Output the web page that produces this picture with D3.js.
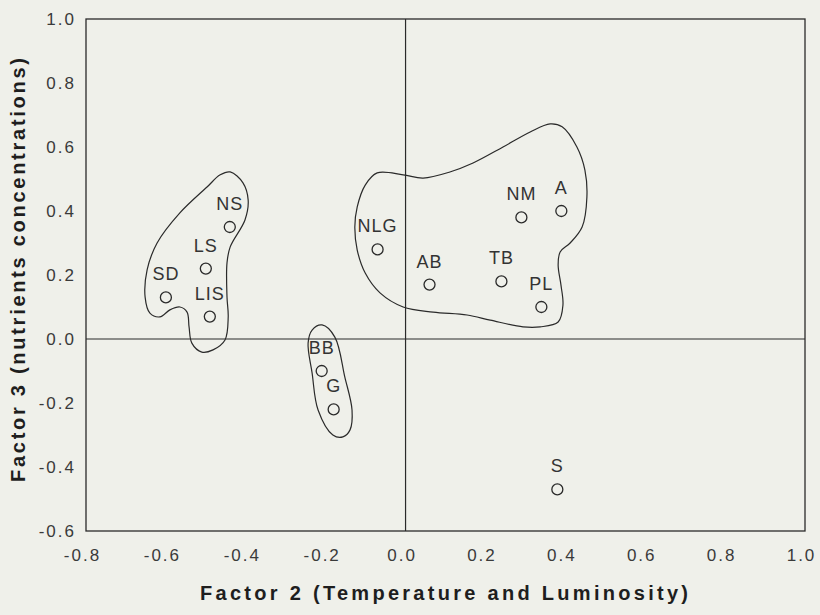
<!DOCTYPE html>
<html>
<head>
<meta charset="utf-8">
<script src="https://cdn.jsdelivr.net/npm/d3@7"></script>
<style>
  html, body { margin: 0; padding: 0; background: #eff0ea; }
  svg { display: block; }
</style>
</head>
<body>
<svg id="chart" width="820" height="615"></svg>
<script>
// ---- Data ----
const sites = ["SD", "NS", "LS", "LIS", "BB", "G", "NLG", "AB", "TB", "NM", "A", "PL", "S"];
const factor2 = [-0.60, -0.44, -0.50, -0.49, -0.21, -0.18, -0.07, 0.06, 0.24, 0.29, 0.39, 0.34, 0.38];
const factor3 = [0.13, 0.35, 0.22, 0.07, -0.10, -0.22, 0.28, 0.17, 0.18, 0.38, 0.40, 0.10, -0.47];

const xTicks = [-0.8, -0.6, -0.4, -0.2, 0.0, 0.2, 0.4, 0.6, 0.8, 1.0];
const yTicks = [-0.6, -0.4, -0.2, 0.0, 0.2, 0.4, 0.6, 0.8, 1.0];

const xTitle = "Factor 2 (Temperature and Luminosity)";
const yTitle = "Factor 3 (nutrients concentrations)";

// Group outlines (hand-drawn enclosures), in data units
const groupLeft = [[-0.439,0.522],[-0.407,0.488],[-0.394,0.434],[-0.402,0.372],[-0.439,0.288],[-0.447,0.238],[-0.447,0.131],[-0.444,0.069],[-0.452,-0.003],[-0.482,-0.034],[-0.51,-0.041],[-0.535,-0.013],[-0.542,0.038],[-0.547,0.084],[-0.565,0.1],[-0.59,0.091],[-0.615,0.069],[-0.64,0.081],[-0.652,0.131],[-0.647,0.216],[-0.622,0.3],[-0.565,0.394],[-0.497,0.475],[-0.464,0.513]];
const groupMiddle = [[-0.209,0.044],[-0.177,0.006],[-0.152,-0.119],[-0.134,-0.222],[-0.139,-0.284],[-0.157,-0.306],[-0.182,-0.3],[-0.219,-0.222],[-0.234,-0.106],[-0.244,-0.013],[-0.234,0.028]];
const groupRight = [[-0.071,0.519],[-0.006,0.513],[0.044,0.503],[0.111,0.522],[0.169,0.55],[0.244,0.6],[0.312,0.647],[0.362,0.672],[0.392,0.663],[0.429,0.6],[0.449,0.528],[0.454,0.444],[0.442,0.35],[0.412,0.3],[0.387,0.272],[0.382,0.231],[0.389,0.169],[0.394,0.106],[0.382,0.053],[0.337,0.038],[0.294,0.038],[0.212,0.059],[0.154,0.075],[0.069,0.084],[-0.006,0.1],[-0.064,0.144],[-0.101,0.206],[-0.121,0.278],[-0.127,0.35],[-0.121,0.413],[-0.101,0.481]];

(function () {
// ---- Layout ----
const svg = d3.select("#chart");
const pLeft = 86, pRight = 805, pTop = 19, pBottom = 531;
const ink = "#2a2a2a";
const fontFam = "'Liberation Sans', Arial, sans-serif";
const fmt = d => d.toFixed(1);

const x = d3.scaleLinear().domain([-0.8, 1.0]).range([pLeft, pRight]);
const y = d3.scaleLinear().domain([-0.6, 1.0]).range([pBottom, pTop]);

// Frame
svg.append("rect")
  .attr("x", pLeft).attr("y", pTop)
  .attr("width", pRight - pLeft).attr("height", pBottom - pTop)
  .attr("fill", "none").attr("stroke", ink).attr("stroke-width", 1.3);

// Zero lines
svg.append("line")
  .attr("x1", pLeft).attr("x2", pRight).attr("y1", y(0)).attr("y2", y(0))
  .attr("stroke", ink).attr("stroke-width", 1.2);
svg.append("line")
  .attr("x1", x(0)).attr("x2", x(0)).attr("y1", pTop).attr("y2", pBottom)
  .attr("stroke", ink).attr("stroke-width", 1.2);

// Axes (labels only, no tick marks)
const xAxis = d3.axisBottom(x).tickValues(xTicks).tickFormat(fmt).tickSize(0).tickPadding(0);
const gx = svg.append("g").attr("transform", `translate(0,${pBottom})`).call(xAxis);
gx.select(".domain").remove();
gx.selectAll("text")
  .attr("y", 30).attr("dy", 0).attr("dx", -4)
  .attr("fill", "#3a3a3a").attr("font-size", 17).attr("font-family", fontFam)
  .style("letter-spacing", "2px");

const yAxis = d3.axisLeft(y).tickValues(yTicks).tickFormat(fmt).tickSize(0).tickPadding(0);
const gy = svg.append("g").attr("transform", `translate(${pLeft},0)`).call(yAxis);
gy.select(".domain").remove();
gy.selectAll("text")
  .attr("x", -10).attr("dy", "0.35em")
  .attr("fill", "#3a3a3a").attr("font-size", 17).attr("font-family", fontFam)
  .style("letter-spacing", "2px");

// Axis titles
svg.append("text")
  .attr("x", 444).attr("y", 600)
  .attr("text-anchor", "middle")
  .attr("font-family", fontFam).attr("font-weight", "bold").attr("font-size", 20)
  .attr("fill", "#1e1e1e")
  .attr("textLength", 488).attr("lengthAdjust", "spacing")
  .text(xTitle);

svg.append("text")
  .attr("transform", "translate(25,270) rotate(-90)")
  .attr("text-anchor", "middle")
  .attr("font-family", fontFam).attr("font-weight", "bold").attr("font-size", 20)
  .attr("fill", "#1e1e1e")
  .attr("textLength", 424).attr("lengthAdjust", "spacing")
  .text(yTitle);

// Group outlines
const outline = d3.line()
  .x(d => x(d[0])).y(d => y(d[1]))
  .curve(d3.curveCatmullRomClosed.alpha(0.5));
[groupLeft, groupMiddle, groupRight].forEach(g => {
  svg.append("path")
    .attr("d", outline(g))
    .attr("fill", "none").attr("stroke", ink).attr("stroke-width", 1.2);
});

// Points
const pts = sites.map((s, i) => ({ name: s, fx: factor2[i], fy: factor3[i] }));
svg.append("g").selectAll("circle").data(pts).join("circle")
  .attr("cx", d => x(d.fx)).attr("cy", d => y(d.fy))
  .attr("r", 5.5)
  .attr("fill", "none").attr("stroke", ink).attr("stroke-width", 1.3);

svg.append("g").selectAll("text").data(pts).join("text")
  .attr("x", d => x(d.fx)).attr("y", d => y(d.fy) - 17)
  .attr("text-anchor", "middle")
  .attr("font-family", fontFam).attr("font-size", 18)
  .attr("fill", "#333")
  .style("letter-spacing", "1px")
  .text(d => d.name);
})();
</script>
</body>
</html>
